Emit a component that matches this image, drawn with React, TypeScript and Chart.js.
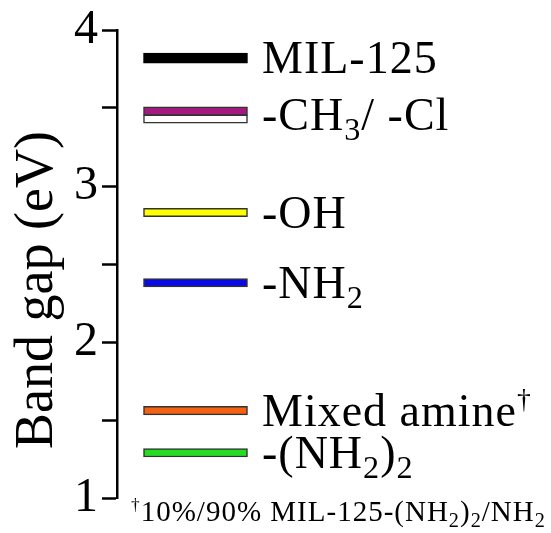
import React, { useEffect, useRef } from 'react';
import { Chart, registerables } from 'chart.js';

Chart.register(...registerables);

// ---- data ----
const categories = ['MIL-125', '-CH3', '-Cl', '-OH', '-NH2', 'Mixed amine', '-(NH2)2'];
const bandGaps = [3.82, 3.48, 3.43, 2.83, 2.38, 1.56, 1.29];
const fillColors = ['#000000', '#a3197f', '#ffffff', '#ffff00', '#0a0ae6', '#f26212', '#22dd22'];
const yTickValues = [1, 2, 3, 4];
const axisTitle = 'Band gap (eV)';

// label segments: [text, kind] where kind 0=normal, 1=subscript, 2=superscript
type Seg = [string, number];
const labelTexts: Seg[][] = [
  [['MIL-125', 0]],
  [['-CH', 0], ['3', 1], ['/ -Cl', 0]],
  [['-OH', 0]],
  [['-NH', 0], ['2', 1]],
  [['Mixed amine', 0], ['\u2020', 2]],
  [['-(NH', 0], ['2', 1], [')', 0], ['2', 1]],
];
const labelBars = [[0], [1, 2], [3], [4], [5], [6]];
const footnote: Seg[] = [
  ['\u2020', 2],
  ['10%/90% MIL-125-(NH', 0],
  ['2', 1],
  [')', 0],
  ['2', 1],
  ['/NH', 0],
  ['2', 1],
];

const FONT = '"Liberation Serif", "Times New Roman", serif';

function drawSegs(
  ctx: CanvasRenderingContext2D,
  segs: Seg[],
  x: number,
  baseline: number,
  size: number,
  spacing: number
) {
  let cx = x;
  for (const [t, kind] of segs) {
    let fs = size;
    let dy = 0;
    if (kind === 1) {
      fs = size * 0.7;
      dy = size * 0.22;
    } else if (kind === 2) {
      fs = size * 0.6;
      dy = -size * 0.38;
    }
    ctx.font = `${fs}px ${FONT}`;
    (ctx as any).letterSpacing = `${spacing}px`;
    ctx.fillText(t, cx, baseline + dy);
    cx += ctx.measureText(t).width;
  }
  (ctx as any).letterSpacing = '0px';
}

const textPlugin = {
  id: 'textPlugin',
  afterDraw(chart: any) {
    const ctx: CanvasRenderingContext2D = chart.ctx;
    const y = chart.scales.y;
    ctx.save();
    ctx.fillStyle = '#000';
    ctx.textBaseline = 'alphabetic';
    ctx.textAlign = 'left';
    const size = 46;
    labelTexts.forEach((segs, i) => {
      const idx = labelBars[i];
      const v = idx.reduce((a, j) => a + bandGaps[j], 0) / idx.length;
      const py = y.getPixelForValue(v);
      drawSegs(ctx, segs, 262, py + 15, size, 1);
    });
    drawSegs(ctx, footnote, 131, 521, 29, 1);
    // axis title
    ctx.translate(52, 290);
    ctx.rotate(-Math.PI / 2);
    ctx.textAlign = 'center';
    ctx.font = `54px ${FONT}`;
    ctx.fillText(axisTitle, 0, 0);
    ctx.restore();
  },
};

export default function App() {
  const ref = useRef<HTMLCanvasElement>(null);
  useEffect(() => {
    if (!ref.current) return;
    const datasets = bandGaps.map((v, i) => {
      const h = i === 0 ? 0.032 : 0.027;
      return {
        label: categories[i],
        data: [[v - h, v + h]],
        backgroundColor: fillColors[i],
        borderColor: i === 0 ? '#000000' : '#333333',
        borderWidth: 1.5,
        borderSkipped: false,
        grouped: false,
        barThickness: 104,
      };
    });
    const chart = new Chart(ref.current, {
      type: 'bar',
      data: { labels: [''], datasets: datasets as any },
      options: {
        animation: false,
        responsive: true,
        maintainAspectRatio: false,
        layout: { padding: { left: 0, top: 30, bottom: 35, right: 277 } },
        plugins: { legend: { display: false }, tooltip: { enabled: false } },
        scales: {
          x: { display: false },
          y: {
            min: 1,
            max: 4,
            afterFit(scale: any) {
              scale.width = 117;
              scale.paddingTop = 0;
              scale.paddingBottom = 0;
            },
            ticks: {
              stepSize: 0.5,
              autoSkip: false,
              color: '#000',
              padding: 4,
              font: { family: FONT, size: 48 },
              callback: (val: any) => (yTickValues.includes(Number(val)) ? String(val) : ''),
            },
            grid: {
              display: true,
              drawOnChartArea: false,
              drawTicks: true,
              tickLength: 15,
              tickWidth: 2.5,
              tickColor: '#000',
              color: '#000',
            },
            border: { display: true, color: '#000', width: 2.5 },
          },
        },
      },
      plugins: [textPlugin],
    });
    return () => chart.destroy();
  }, []);
  return (
    <div style={{ position: 'absolute', left: 0, top: 0, width: 551, height: 533, background: '#fff' }}>
      <canvas ref={ref} />
    </div>
  );
}
